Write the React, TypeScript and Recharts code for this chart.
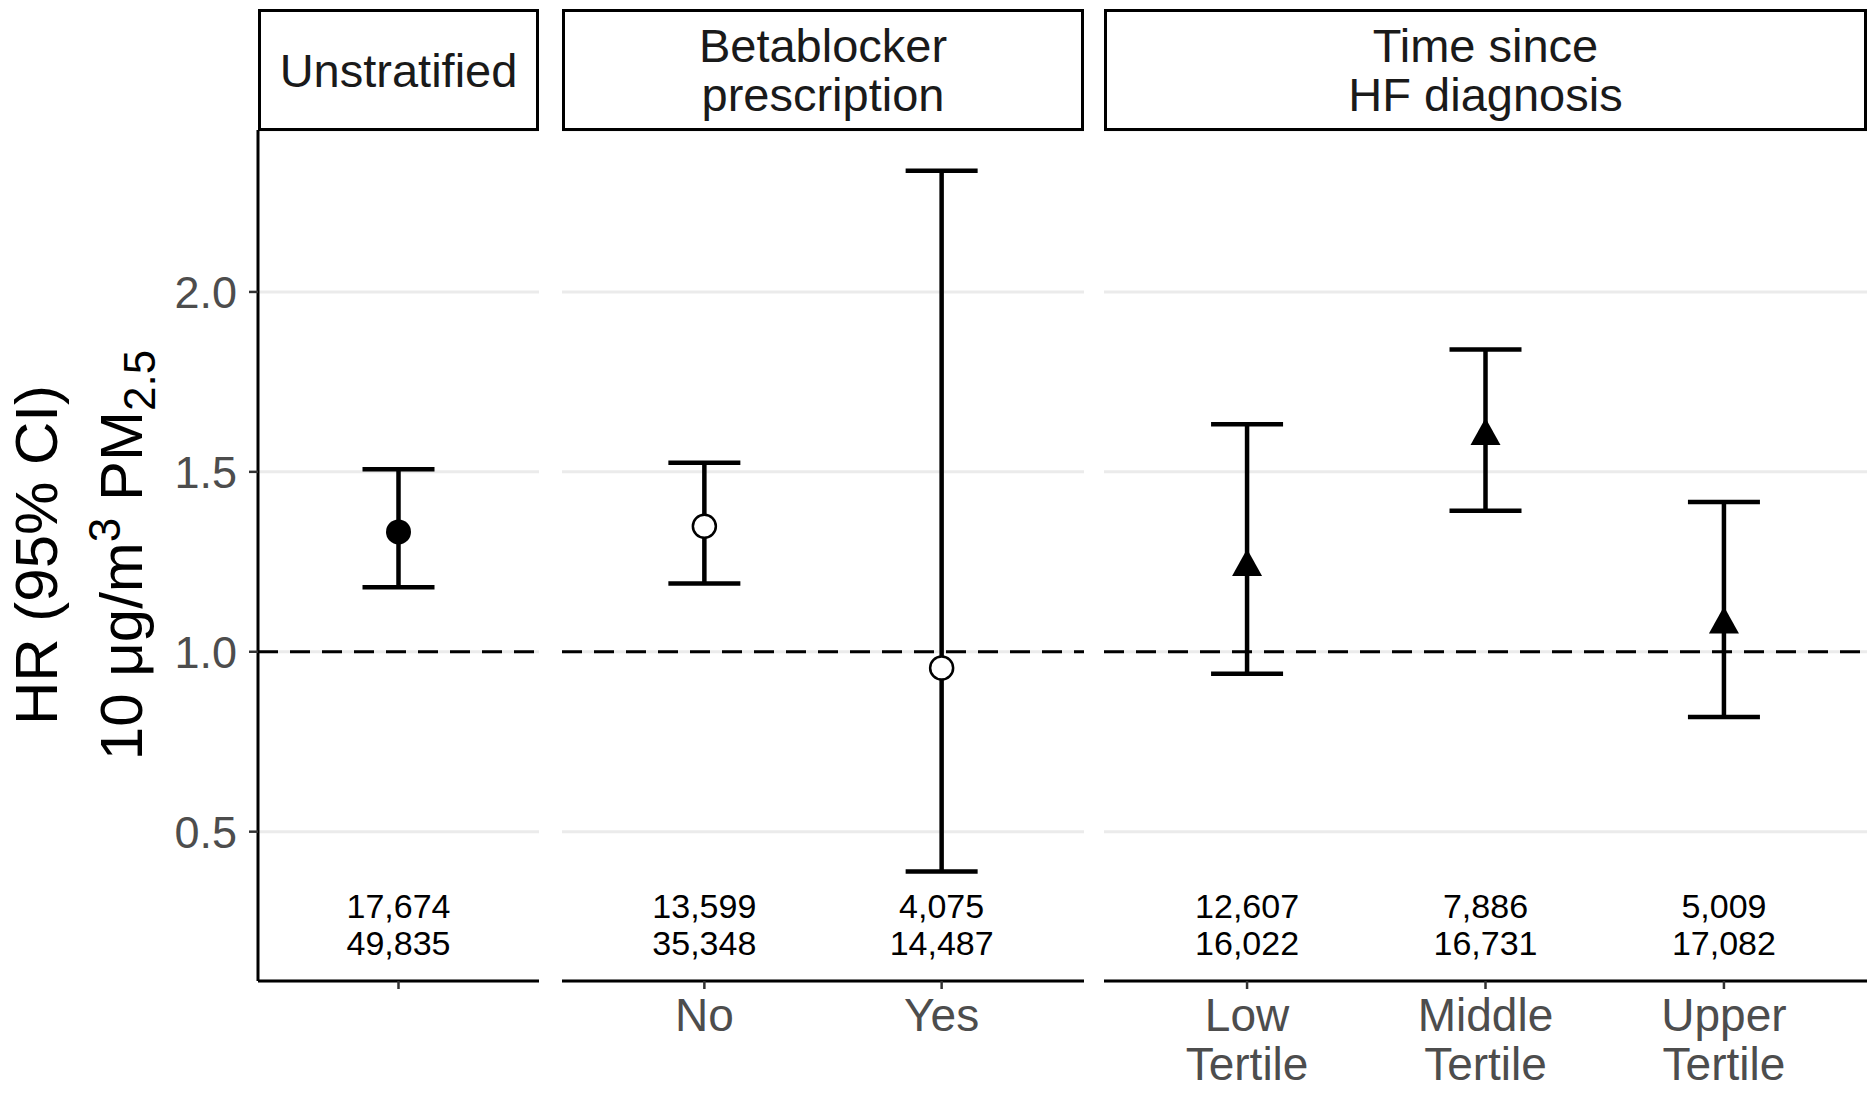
import React from "react";
import {
  CartesianGrid,
  ComposedChart,
  ErrorBar,
  ReferenceLine,
  Scatter,
  XAxis,
  YAxis,
} from "recharts";

// values
const unstratLabels = [""];
const unstratHR = [1.333];
const unstratLower = [1.179];
const unstratUpper = [1.507];
const unstratCases = ["17,674"];
const unstratTotals = ["49,835"];

const betaLabels = ["No", "Yes"];
const betaHR = [1.349, 0.955];
const betaLower = [1.19, 0.389];
const betaUpper = [1.525, 2.337];
const betaCases = ["13,599", "4,075"];
const betaTotals = ["35,348", "14,487"];

const timeLabels = ["Low\nTertile", "Middle\nTertile", "Upper\nTertile"];
const timeHR = [1.244, 1.608, 1.084];
const timeLower = [0.939, 1.392, 0.819];
const timeUpper = [1.632, 1.84, 1.416];
const timeCases = ["12,607", "7,886", "5,009"];
const timeTotals = ["16,022", "16,731", "17,082"];

const stripTitles = ["Unstratified", "Betablocker\nprescription", "Time since\nHF diagnosis"];
const yTicks = [0.5, 1.0, 1.5, 2.0];
const yDomain = [0.085, 2.45];
const countY = 0.25;

const FONT = "'Liberation Sans', Arial, Helvetica, sans-serif";
const H = 1095;
const PLOT_TOP = 130;
const X_AXIS_H = 114;

const FilledDot = (p: any) => <circle cx={p.cx} cy={p.cy} r={12.5} fill="#000" />;
const OpenDot = (p: any) => (
  <circle cx={p.cx} cy={p.cy} r={11.5} fill="#fff" stroke="#000" strokeWidth={2.5} />
);
const Triangle = (p: any) => (
  <polygon
    points={`${p.cx},${p.cy - 15} ${p.cx - 15},${p.cy + 12} ${p.cx + 15},${p.cy + 12}`}
    fill="#000"
  />
);

const CountLabel = (p: any) => (
  <text textAnchor="middle" fontSize={34} fill="#000" fontFamily={FONT}>
    <tspan x={p.cx} y={p.cy - 4}>{p.payload.top}</tspan>
    <tspan x={p.cx} y={p.cy + 33}>{p.payload.bottom}</tspan>
  </text>
);

const XTick = (p: any) => {
  const label: string = p.labels[p.payload.value - 1] ?? "";
  const lines = label.split("\n");
  return (
    <text textAnchor="middle" fontSize={46} fill="#4D4D4D" fontFamily={FONT}>
      {lines.map((l, i) => (
        <tspan key={i} x={p.x} y={p.y + 40 + i * 49}>
          {l}
        </tspan>
      ))}
    </text>
  );
};

interface PanelProps {
  left: number;
  width: number;
  axisWidth: number;
  labels: string[];
  hr: number[];
  lower: number[];
  upper: number[];
  cases: string[];
  totals: string[];
  shape: (p: any) => React.ReactElement;
}

function Panel({ left, width, axisWidth, labels, hr, lower, upper, cases, totals, shape }: PanelProps) {
  const points = labels.map((_, i) => ({
    x: i + 1,
    hr: hr[i],
    err: [hr[i] - lower[i], upper[i] - hr[i]],
  }));
  const counts = labels.map((_, i) => ({ x: i + 1, y: countY, top: cases[i], bottom: totals[i] }));
  const showY = axisWidth > 0;

  return (
    <div style={{ position: "absolute", left, top: 0 }}>
      <ComposedChart
        width={width}
        height={H}
        margin={{ top: PLOT_TOP, right: 0, bottom: 0, left: 0 }}
      >
        <CartesianGrid vertical={false} stroke="#EBEBEB" strokeWidth={3} />
        <XAxis
          type="number"
          dataKey="x"
          domain={[0.4, labels.length + 0.6]}
          ticks={labels.map((_, i) => i + 1)}
          interval={0}
          allowDataOverflow
          height={X_AXIS_H}
          axisLine={{ stroke: "#000", strokeWidth: 3 }}
          tickLine={{ stroke: "#333", strokeWidth: 2.5 }}
          tickSize={8}
          tick={<XTick labels={labels} />}
        />
        <YAxis
          type="number"
          domain={yDomain}
          ticks={yTicks}
          allowDataOverflow
          hide={!showY}
          width={showY ? axisWidth : 0}
          axisLine={{ stroke: "#000", strokeWidth: 3 }}
          tickLine={{ stroke: "#333", strokeWidth: 2.5 }}
          tickSize={9}
          tickMargin={12}
          tickFormatter={(v: number) => v.toFixed(1)}
          tick={{ fontSize: 45, fill: "#4D4D4D", fontFamily: FONT }}
        />
        <ReferenceLine y={1} stroke="#000" strokeWidth={3} strokeDasharray="20 12" />
        <Scatter data={points} dataKey="hr" shape={shape} isAnimationActive={false}>
          <ErrorBar dataKey="err" direction="y" width={36} stroke="#000" strokeWidth={4.5} />
        </Scatter>
        <Scatter data={counts} dataKey="y" shape={CountLabel} isAnimationActive={false} />
      </ComposedChart>
    </div>
  );
}

function Strip({ left, width, title }: { left: number; width: number; title: string }) {
  return (
    <div
      style={{
        position: "absolute",
        left,
        top: 9,
        width,
        height: 122,
        boxSizing: "border-box",
        border: "3px solid #000",
        background: "#fff",
        display: "flex",
        flexDirection: "column",
        justifyContent: "center",
        alignItems: "center",
        fontSize: 47,
        lineHeight: "49px",
        color: "#1A1A1A",
      }}
    >
      {title.split("\n").map((l, i) => (
        <div key={i}>{l}</div>
      ))}
    </div>
  );
}

export default function App() {
  return (
    <div
      style={{
        position: "absolute",
        left: 0,
        top: 0,
        width: 1870,
        height: H,
        background: "#fff",
        fontFamily: FONT,
        overflow: "hidden",
      }}
    >
      <Panel
        left={0}
        width={539}
        axisWidth={258}
        labels={unstratLabels}
        hr={unstratHR}
        lower={unstratLower}
        upper={unstratUpper}
        cases={unstratCases}
        totals={unstratTotals}
        shape={FilledDot}
      />
      <Panel
        left={562}
        width={522}
        axisWidth={0}
        labels={betaLabels}
        hr={betaHR}
        lower={betaLower}
        upper={betaUpper}
        cases={betaCases}
        totals={betaTotals}
        shape={OpenDot}
      />
      <Panel
        left={1104}
        width={763}
        axisWidth={0}
        labels={timeLabels}
        hr={timeHR}
        lower={timeLower}
        upper={timeUpper}
        cases={timeCases}
        totals={timeTotals}
        shape={Triangle}
      />
      <Strip left={258} width={281} title={stripTitles[0]} />
      <Strip left={562} width={522} title={stripTitles[1]} />
      <Strip left={1104} width={763} title={stripTitles[2]} />
      <svg
        width={250}
        height={H}
        style={{ position: "absolute", left: 0, top: 0, pointerEvents: "none" }}
      >
        <g fontFamily={FONT} fontSize={60} fill="#000" textAnchor="middle">
          <text transform="translate(57,555) rotate(-90)">HR (95% CI)</text>
          <text transform="translate(142,555) rotate(-90)">
            10 μg/m
            <tspan dy={-22} fontSize={44}>3</tspan>
            <tspan dy={22}> PM</tspan>
            <tspan dy={13} fontSize={44}>2.5</tspan>
          </text>
        </g>
      </svg>
    </div>
  );
}
